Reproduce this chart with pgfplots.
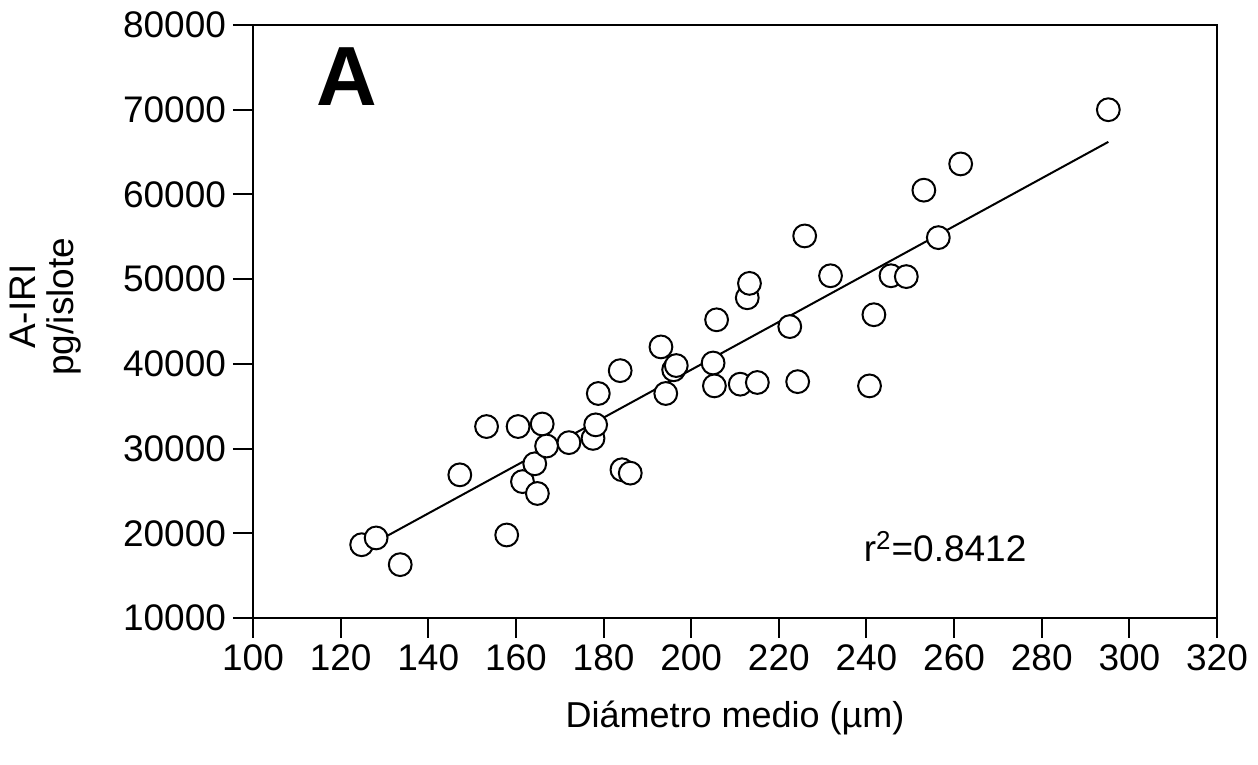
\documentclass[border=0pt]{standalone}
\usepackage{fontspec}
\setmainfont{Liberation Sans}
\usepackage{pgfplots}
\pgfplotsset{compat=1.18}
\pgfplotstableread{
x y
124.8 18650
128.1 19450
133.6 16300
147.2 26900
153.3 32600
157.9 19800
160.5 32600
161.5 26100
164.3 28200
164.9 24700
166.0 32900
167.0 30300
172.1 30700
177.6 31200
178.2 32800
178.8 36500
183.8 39200
184.2 27500
186.1 27100
193.1 42000
194.2 36500
196.0 39300
196.6 39800
205.0 40100
205.3 37400
205.8 45200
211.2 37600
212.8 47800
213.3 49500
215.1 37800
222.5 44400
224.3 37900
225.9 55100
231.8 50400
240.7 37400
241.7 45800
245.6 50400
249.1 50300
253.1 60500
256.4 54900
261.5 63600
295.2 70000
}\pts
\begin{document}
\begin{tikzpicture}
\begin{axis}[
  scale only axis,
  width=482pt, height=296.5pt,
  xmin=100, xmax=320, ymin=10000, ymax=80000,
  xtick={100,120,...,320},
  ytick={10000,20000,...,80000},
  scaled y ticks=false,
  /pgf/number format/.cd, 1000 sep={}, assume math mode=true,
  /pgfplots/.cd,
  axis line style={line width=1.1pt},
  tick style={line width=1pt, black},
  tick align=outside,
  xtick pos=bottom, ytick pos=left,
  major tick length=10pt,
  ticklabel style={font=\fontsize{18.5}{22}\selectfont},
  xticklabel style={yshift=0pt},
  yticklabel style={xshift=0pt},
  xlabel={Diámetro medio (µm)},
  xlabel style={font=\fontsize{18}{22}\selectfont, at={(axis description cs:0.5,-0.1686)}, anchor=center},
  ylabel={A-IRI\\pg/islote},
  ylabel style={font=\fontsize{18.5}{19}\selectfont, align=center, at={(axis description cs:-0.2150,0.525)}, anchor=center},
  clip=false,
]
\addplot[black, line width=1pt, no marks] coordinates {(124.8,18050) (295.2,66200)};
\addplot[only marks, mark=*, mark size=5.7pt, mark options={fill=white, draw=black, line width=1pt}] table[x=x,y=y] {\pts};
\node[font=\fontsize{42}{42}\selectfont\bfseries] at (axis cs:121.5,73900) {A};
\node[anchor=west, font=\fontsize{18.5}{22}\selectfont] at (axis cs:237.8,18400) {r\textsuperscript{2}=0.8412};
\end{axis}
\pgfresetboundingbox
\path[use as bounding box] ([xshift=-126.5pt,yshift=-73.5pt]current axis.south west) rectangle ([xshift=20.5pt,yshift=12.5pt]current axis.north east);
\end{tikzpicture}
\end{document}
